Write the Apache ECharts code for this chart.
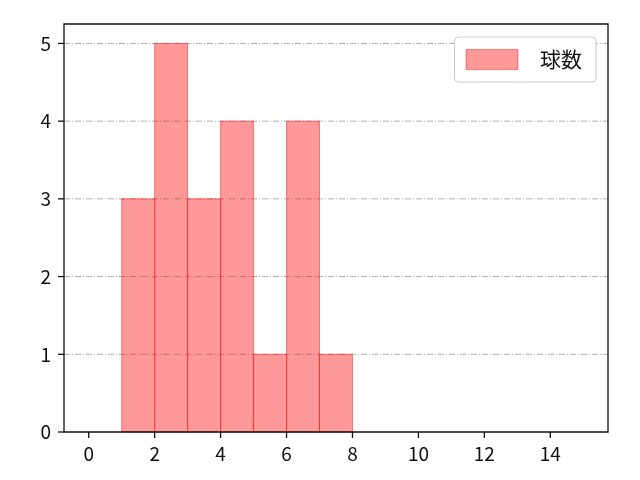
<!DOCTYPE html>
<html>
<head>
<meta charset="utf-8">
<script src="https://cdn.jsdelivr.net/npm/echarts@6/dist/echarts.min.js"></script>
<style>
  html, body { margin: 0; padding: 0; background: #fff; }
  #main { width: 640px; height: 480px; }
</style>
</head>
<body>
<div id="main"></div>
<script>
// histogram bins (left edges) and counts
var binStart = [1, 2, 3, 4, 5, 6, 7];
var binEnd = [2, 3, 4, 5, 6, 7, 8];
var counts = [3, 5, 3, 4, 1, 4, 1];
var xTicks = [0, 2, 4, 6, 8, 10, 12, 14];
var yTicks = [0, 1, 2, 3, 4, 5];
var xMin = -0.75, xMax = 15.75;
var yMin = 0, yMax = 5.25;
var seriesName = '球数';

var chart = echarts.init(document.getElementById('main'));

var data = [];
for (var i = 0; i < counts.length; i++) {
  data.push([binStart[i], binEnd[i], counts[i]]);
}

var font = '"Noto Sans CJK JP", "DejaVu Sans", sans-serif';
var axisColor = '#111';
var tickLen = 6;

// tick marks (and horizontal grid lines) drawn through the axis scale
function tickSeries(values, dir) {
  return {
    type: 'custom',
    silent: true,
    clip: false,
    z: dir === 'x' ? 5 : 1,
    data: values.map(function (v) { return dir === 'x' ? [v, yMin] : [xMin, v]; }),
    encode: { x: 0, y: 1 },
    renderItem: function (params, api) {
      var p = api.coord([api.value(0), api.value(1)]);
      if (dir === 'x') {
        return { type: 'line', shape: { x1: p[0], y1: p[1], x2: p[0], y2: p[1] + tickLen },
          style: { stroke: axisColor, lineWidth: 1.3 } };
      }
      var children = [{ type: 'line', shape: { x1: p[0] - tickLen, y1: p[1], x2: p[0], y2: p[1] },
        style: { stroke: axisColor, lineWidth: 1.3 } }];
      if (api.value(1) > yMin) {
        var q = api.coord([xMax, api.value(1)]);
        children.push({ type: 'line', shape: { x1: p[0], y1: p[1], x2: q[0], y2: q[1] },
          style: { stroke: '#b0b0b0', lineWidth: 1, lineDash: [6, 2, 1, 2] } });
      }
      return { type: 'group', children: children };
    }
  };
}

var option = {
  animation: false,
  backgroundColor: '#fff',
  textStyle: { fontFamily: font },
  grid: {
    left: 64, top: 24, right: 32, bottom: 48,
    show: true, borderColor: axisColor, borderWidth: 1.3, backgroundColor: 'transparent', z: 6
  },
  legend: {
    right: 44, top: 37,
    orient: 'vertical',
    padding: [12, 14, 12, 11],
    itemWidth: 52, itemHeight: 20,
    borderColor: '#ccc', borderWidth: 1, borderRadius: 4,
    backgroundColor: '#fff',
    textStyle: { fontSize: 21, color: '#111', padding: [0, 0, 0, 17] },
    data: [{ name: seriesName, icon: 'rect', itemStyle: { color: 'rgba(255,0,0,0.4)', borderColor: 'rgba(255,0,0,0.4)', borderWidth: 1 } }]
  },
  xAxis: {
    type: 'value', min: xMin, max: xMax,
    axisLine: { show: false, onZero: false },
    axisTick: { show: false },
    axisLabel: { fontSize: 19, color: '#111', margin: 12, customValues: xTicks },
    splitLine: { show: false }
  },
  yAxis: {
    type: 'value', min: yMin, max: yMax,
    axisLine: { show: false, onZero: false },
    axisTick: { show: false },
    axisLabel: { fontSize: 19, color: '#111', margin: 13, customValues: yTicks },
    splitLine: { show: false }
  },
  series: [{
    name: seriesName,
    type: 'custom',
    renderItem: function (params, api) {
      var p0 = api.coord([api.value(0), 0]);
      var p1 = api.coord([api.value(1), api.value(2)]);
      return {
        type: 'rect',
        shape: { x: p0[0], y: p1[1], width: p1[0] - p0[0], height: p0[1] - p1[1] },
        style: { fill: 'rgba(255,0,0,0.4)', stroke: 'rgba(255,0,0,0.45)', lineWidth: 1 }
      };
    },
    encode: { x: [0, 1], y: 2 },
    data: data,
    z: 3
  }, tickSeries(xTicks, 'x'), tickSeries(yTicks, 'y')]
};

chart.setOption(option);
</script>
</body>
</html>
